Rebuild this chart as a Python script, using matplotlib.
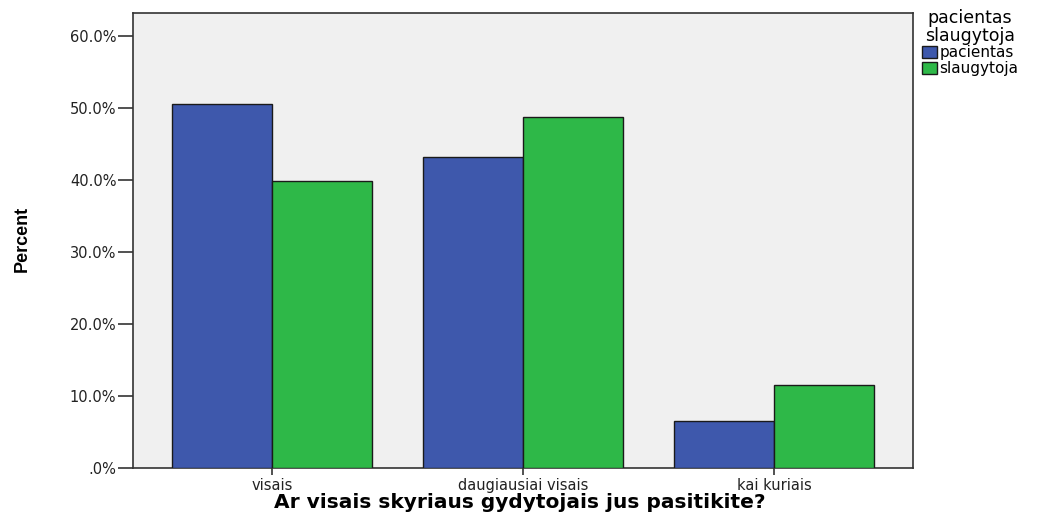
import matplotlib
matplotlib.use("Agg")
import matplotlib.pyplot as plt
import numpy as np
from matplotlib.ticker import FuncFormatter
from matplotlib.patches import Patch

categories = ["visais", "daugiausiai visais", "kai kuriais"]
pacientas = [50.6, 43.2, 6.5]
slaugytoja = [39.9, 48.7, 11.5]
series_names = ["pacientas", "slaugytoja"]
colors = ["#3E58AC", "#2EB848"]

FONT = ["DejaVu Sans"]

fig = plt.figure(figsize=(10.48, 5.14), dpi=100)
ax = fig.add_axes([0.1269, 0.0895, 0.7443, 0.8852])
ax.set_facecolor("#F0F0F0")

x = np.arange(len(categories))
w = 0.398
ax.bar(x - w/2, pacientas, w, color=colors[0], edgecolor="#1a1a1a", linewidth=1.0, zorder=3)
ax.bar(x + w/2, slaugytoja, w, color=colors[1], edgecolor="#1a1a1a", linewidth=1.0, zorder=3)

ax.set_xlim(-0.554, 2.554)
ax.set_ylim(0, 63.2)
ax.set_yticks(np.arange(0, 61, 10))
ax.yaxis.set_major_formatter(FuncFormatter(lambda v, p: ".0%" if v == 0 else f"{v:.1f}%"))
ax.set_xticks(x)
ax.set_xticklabels(categories)
for s in ax.spines.values():
    s.set_color("#333333")
    s.set_linewidth(1.2)
ax.tick_params(axis="y", direction="out", length=11, width=1.2, color="#333333",
               labelsize=10.5, labelcolor="#222222", pad=1)
ax.tick_params(axis="x", direction="out", length=5, width=1.2, color="#333333",
               labelsize=10.5, labelcolor="#222222", pad=2)
for lbl in ax.get_yticklabels() + ax.get_xticklabels():
    lbl.set_family(FONT)

fig.text(0.4955, 0.004, "Ar visais skyriaus gydytojais jus pasitikite?", fontsize=14.5,
         fontweight="bold", family=FONT, ha="center", va="bottom")
fig.text(0.021, 0.535, "Percent", rotation=90, va="center", ha="center", fontsize=13,
         fontweight="bold", family=["Liberation Sans Narrow", "Liberation Sans", "DejaVu Sans"])

handles = [Patch(facecolor=c, edgecolor="#1a1a1a", label=n) for c, n in zip(colors, series_names)]
leg = fig.legend(handles=handles, title="pacientas\nslaugytoja", loc="upper left",
                 bbox_to_anchor=(0.878, 0.985), frameon=False,
                 handlelength=1.0, handleheight=0.8, handletextpad=0.15,
                 labelspacing=0.05, borderaxespad=0, borderpad=0.1,
                 prop={"family": FONT, "size": 11})
leg.get_title().set_family(FONT)
leg.get_title().set_fontsize(12.5)
leg.get_title().set_multialignment("center")
leg.get_title().set_linespacing(0.95)

fig.savefig("out.png", dpi=100, facecolor="white")
